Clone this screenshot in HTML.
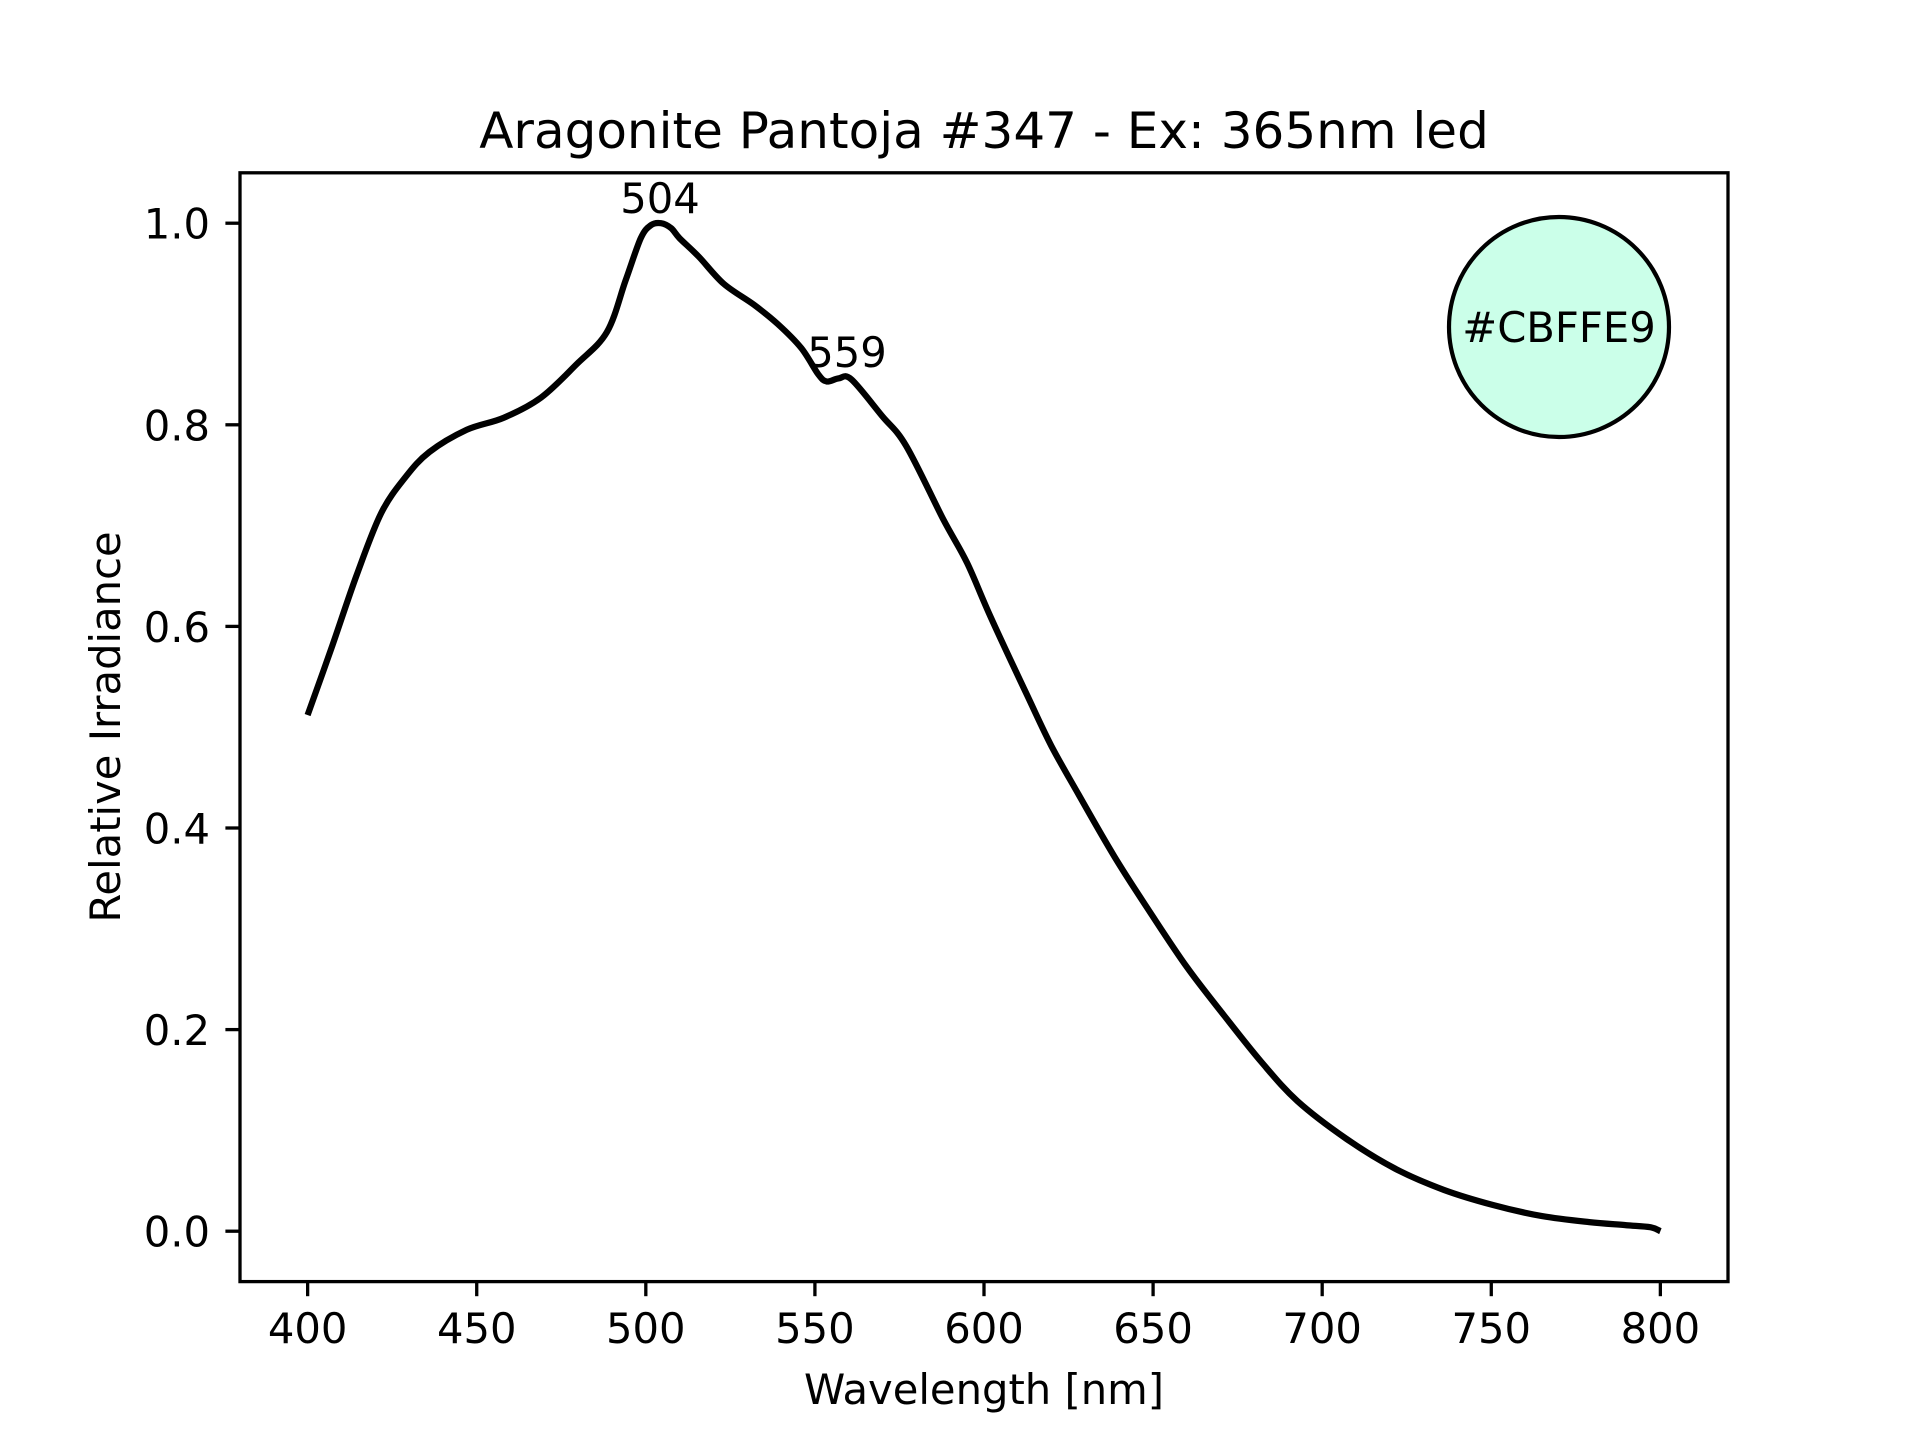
<!DOCTYPE html>
<html><head><meta charset="utf-8"><style>html,body{margin:0;padding:0;background:#fff}svg{display:block}text{font-family:"DejaVu Sans","Liberation Sans",sans-serif;fill:#000}</style></head>
<body>
<svg id="s" width="1920" height="1440" xmlns="http://www.w3.org/2000/svg">
<rect width="1920" height="1440" fill="#fff"/>
<path id="curve" fill="none" stroke="#000" stroke-width="6.25" stroke-linejoin="round" stroke-linecap="butt"/>
<g id="ticks" stroke="#000" stroke-width="3.3"></g>
<g id="labels" font-size="41.7"></g>
<rect x="240" y="172.8" width="1488" height="1108.8" fill="none" stroke="#000" stroke-width="3.3"/>
<circle cx="1559" cy="327" r="110" fill="#CBFFE9" stroke="#000" stroke-width="4.2"/>
<text x="1559" y="342" font-size="41.7" text-anchor="middle">#CBFFE9</text>
<text x="660" y="213" font-size="41.7" text-anchor="middle">504</text>
<text x="847" y="367" font-size="41.7" text-anchor="middle">559</text>
<text x="984" y="148" font-size="50" text-anchor="middle">Aragonite Pantoja #347 - Ex: 365nm led</text>
<text x="984" y="1404" font-size="41.7" text-anchor="middle">Wavelength [nm]</text>
<text transform="translate(120,727) rotate(-90)" font-size="41.7" text-anchor="middle">Relative Irradiance</text>
</svg>
<script>
var X=function(l){return 240+(l-380)/440*1488},Y=function(v){return 1281.6-(v+0.05)/1.1*1108.8};
var d=[[400,.512],[407,.578],[414.5,.651],[421.7,.712],[428.9,.748],[436,.773],[447,.795],[458,.807],[469,.827],[479.5,.860],[488.5,.892],[494,.943],[498.5,.985],[501.5,.998],[504.5,1.0],[507.5,.995],[510,.985],[515.6,.967],[523,.940],[532,.919],[539,.900],[546,.876],[551,.85],[553.5,.843],[557,.846],[560.8,.845],[569.8,.809],[577,.779],[588,.706],[595,.663],[602,.609],[613,.530],[620,.481],[628,.433],[638.5,.372],[649,.317],[660,.262],[671,.214],[682,.168],[692.7,.129],[707,.092],[721.6,.062],[736,.041],[750.5,.026],[765,.015],[779,.009],[790,.006],[797,.004],[800,0]];
var P=d.map(function(p){return [X(p[0]),Y(p[1])]});
var s='M'+P[0][0].toFixed(1)+' '+P[0][1].toFixed(1);
for(var i=0;i<P.length-1;i++){var p0=P[i>0?i-1:i],p1=P[i],p2=P[i+1],p3=P[i+2<P.length?i+2:i+1];
var c1=[p1[0]+(p2[0]-p0[0])/6,p1[1]+(p2[1]-p0[1])/6],c2=[p2[0]-(p3[0]-p1[0])/6,p2[1]-(p3[1]-p1[1])/6];
s+='C'+c1[0].toFixed(1)+' '+c1[1].toFixed(1)+' '+c2[0].toFixed(1)+' '+c2[1].toFixed(1)+' '+p2[0].toFixed(1)+' '+p2[1].toFixed(1);}
document.getElementById('curve').setAttribute('d',s);
var t='',L='';
for(var l=400;l<=800;l+=50){var x=X(l);t+='<line x1="'+x+'" y1="1281.6" x2="'+x+'" y2="1296.2"/>';L+='<text x="'+x+'" y="1343" text-anchor="middle">'+l+'</text>';}
for(var i=0;i<=5;i++){var v=i*0.2,y=Y(v);t+='<line x1="240" y1="'+y+'" x2="225.4" y2="'+y+'"/>';L+='<text x="210" y="'+(y+15.5)+'" text-anchor="end">'+v.toFixed(1)+'</text>';}
document.getElementById('ticks').innerHTML=t;document.getElementById('labels').innerHTML=L;
</script>
</body></html>
